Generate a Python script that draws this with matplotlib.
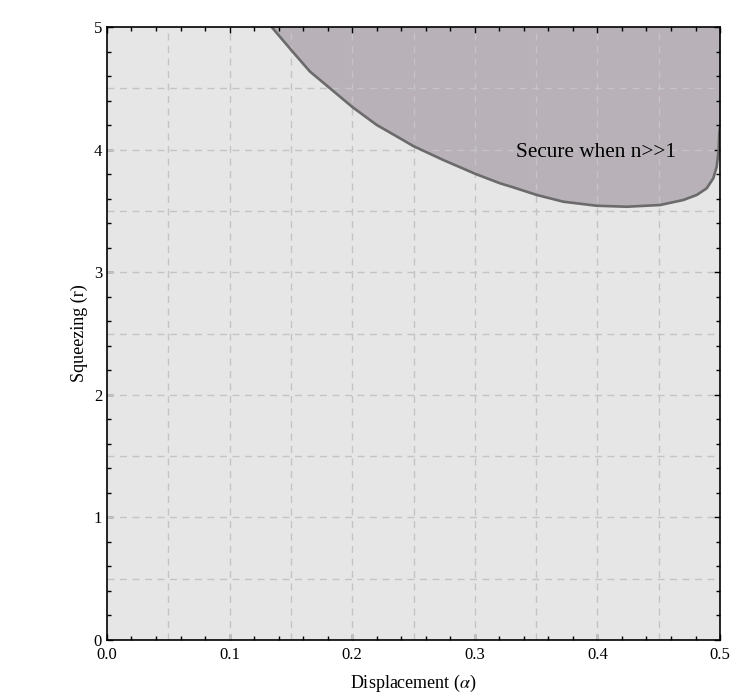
import matplotlib
matplotlib.use("Agg")
import matplotlib.pyplot as plt
from matplotlib.ticker import MultipleLocator

# Boundary of the secure region
alpha = [0.1343, 0.1507, 0.1656, 0.1819, 0.2004, 0.2200, 0.2390, 0.2498,
         0.2743, 0.3007, 0.3206, 0.3314, 0.3505, 0.3722, 0.3994, 0.4239,
         0.4511, 0.4701, 0.4810, 0.4891, 0.4945, 0.4973, 0.4989, 0.4994, 0.5000]
r_min = [5.000, 4.807, 4.636, 4.500, 4.345, 4.201, 4.092, 4.029,
         3.915, 3.801, 3.725, 3.692, 3.630, 3.575, 3.542, 3.534,
         3.548, 3.589, 3.630, 3.684, 3.766, 3.861, 3.997, 4.133, 4.187]
r_top = 5.0

label_text = "Secure when n>>1"
label_pos = (0.334, 3.975)

plt.rcParams['font.family'] = ['Liberation Serif', 'DejaVu Serif']
plt.rcParams['mathtext.fontset'] = 'stix'

fig = plt.figure(figsize=(7.47, 6.94), dpi=100)
ax = fig.add_axes([0.1432, 0.0778, 0.8207, 0.8833])
ax.set_facecolor('#e6e6e6')

# Shaded region and its border
ax.fill_between(alpha, r_min, r_top, color='#b8b1b8', linewidth=0, zorder=1)
ax.plot(alpha, r_min, color='#6b6b6b', linewidth=1.9, zorder=3,
        solid_joinstyle='round', solid_capstyle='round')

ax.text(label_pos[0], label_pos[1], label_text, fontsize=15.3, ha='left', va='center', zorder=4)

# Axes limits and ticks (Mathematica style frame)
ax.set_xlim(0, 0.5)
ax.set_ylim(0, 5)
ax.xaxis.set_major_locator(MultipleLocator(0.1))
ax.xaxis.set_minor_locator(MultipleLocator(0.02))
ax.yaxis.set_major_locator(MultipleLocator(1))
ax.yaxis.set_minor_locator(MultipleLocator(0.2))
ax.xaxis.set_major_formatter(plt.FormatStrFormatter('%.1f'))
ax.tick_params(which='both', direction='in', top=True, right=True, labelsize=12, width=1)
ax.tick_params(which='major', length=4.5)
ax.tick_params(which='minor', length=3)
ax.tick_params(axis='y', labelright=False)
ax.tick_params(axis='x', labeltop=False, pad=5)

# Dashed grid at half steps
for gx in [0.05, 0.1, 0.15, 0.2, 0.25, 0.3, 0.35, 0.4, 0.45]:
    ax.axvline(gx, color='#c4c4c4', linestyle=(0, (5, 4)), linewidth=1, zorder=2)
for gy in [0.5, 1, 1.5, 2, 2.5, 3, 3.5, 4, 4.5]:
    ax.axhline(gy, color='#c4c4c4', linestyle=(0, (5, 4)), linewidth=1, zorder=2)

for s in ax.spines.values():
    s.set_linewidth(1.2)
    s.set_zorder(5)

ax.set_xlabel(r'Displacement ($\alpha$)', fontsize=13, labelpad=7)
ax.set_ylabel('Squeezing (r)', fontsize=13, labelpad=4)

fig.savefig('out.png', dpi=100)
